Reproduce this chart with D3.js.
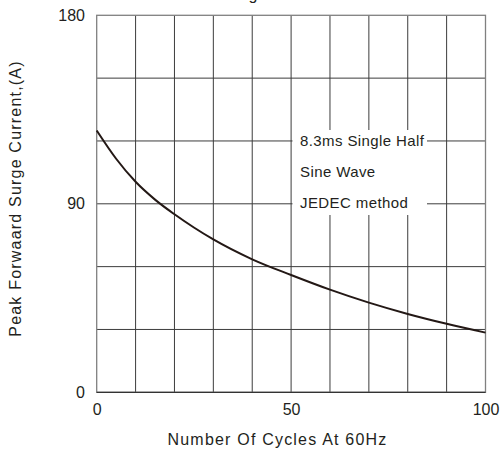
<!DOCTYPE html>
<html>
<head>
<meta charset="utf-8">
<script src="https://cdn.jsdelivr.net/npm/d3@7"></script>
<style>
  body { margin: 0; background: #fff; }
  text { font-family: "Liberation Sans", Arial, sans-serif; fill: #231f20; }
</style>
</head>
<body>
<svg id="chart" width="501" height="453"></svg>
<script>
// values
let cycles  = [0, 5, 10, 15, 20, 25, 30, 40, 50, 60, 70, 80, 90, 100];
let current = [125, 111.5, 100.5, 92, 85, 78.7, 73, 63.5, 56, 49, 42.8, 37.4, 32.7, 28.5];

let xTicks = [0, 50, 100];
let yTicks = [0, 90, 180];
let xGrid = [10, 20, 30, 40, 50, 60, 70, 80, 90];
let yGrid = [30, 60, 90, 120, 150];
let noteLines = ["8.3ms Single Half", "Sine Wave", "JEDEC method"];

let svg = d3.select('#chart');

let x = d3.scaleLinear().domain([0, 100]).range([96.7, 485.5]);
let y = d3.scaleLinear().domain([0, 180]).range([392.3, 15.3]);

// cut-off title, only the descender shows
svg.append('text')
   .attr('x', 253).attr('y', 0)
   .attr('text-anchor', 'middle')
   .style('font-size', '16px')
   .text('g');

// grid
svg.selectAll('.vgrid')
   .data(xGrid)
   .enter()
   .append('line')
   .attr('x1', d => x(d)).attr('x2', d => x(d))
   .attr('y1', y(180)).attr('y2', y(0))
   .attr('stroke', '#3c3c3c').attr('stroke-width', 1);

svg.selectAll('.hgrid')
   .data(yGrid)
   .enter()
   .append('line')
   .attr('x1', x(0)).attr('x2', x(100))
   .attr('y1', d => y(d)).attr('y2', d => y(d))
   .attr('stroke', '#3c3c3c').attr('stroke-width', 1);

// frame
svg.append('rect')
   .attr('x', x(0)).attr('y', y(180))
   .attr('width', x(100) - x(0)).attr('height', y(0) - y(180))
   .attr('fill', 'none')
   .attr('stroke', '#808080').attr('stroke-width', 1.3);
svg.append('line')
   .attr('x1', x(0)).attr('x2', x(100))
   .attr('y1', y(0)).attr('y2', y(0))
   .attr('stroke', '#333').attr('stroke-width', 1.3);

// note box
svg.append('rect')
   .attr('x', 292.5).attr('y', 130)
   .attr('width', 134.5).attr('height', 85)
   .attr('fill', '#fff');

svg.selectAll('.note')
   .data(noteLines)
   .enter()
   .append('text')
   .attr('x', 300)
   .attr('y', (d, i) => 146 + i * 30.8)
   .style('font-size', '15px')
   .style('letter-spacing', '0.4px')
   .text(d => d);

// curve
let line = d3.line()
   .x(d => x(d[0]))
   .y(d => y(d[1]))
   .curve(d3.curveMonotoneX);

svg.append('path')
   .datum(cycles.map((c, i) => [c, current[i]]))
   .attr('d', line)
   .attr('fill', 'none')
   .attr('stroke', '#231815')
   .attr('stroke-width', 2);

// axes
let xAxis = svg.append('g')
   .attr('transform', 'translate(0,' + y(0) + ')')
   .call(d3.axisBottom(x).tickValues(xTicks).tickSize(0).tickPadding(11.3));
let yAxis = svg.append('g')
   .attr('transform', 'translate(' + x(0) + ',0)')
   .call(d3.axisLeft(y).tickValues(yTicks).tickSize(0).tickPadding(11.7));

[xAxis, yAxis].forEach(g => {
   g.select('.domain').remove();
   g.selectAll('text')
    .style('font-size', '16px')
    .style('font-family', '"Liberation Sans", Arial, sans-serif')
    .attr('fill', '#231f20');
});

// axis titles
svg.append('text')
   .attr('x', 277.5).attr('y', 445)
   .attr('text-anchor', 'middle')
   .style('font-size', '16px')
   .style('letter-spacing', '1.2px')
   .text('Number Of Cycles At 60Hz');

svg.append('text')
   .attr('transform', 'translate(20.7,198.5) rotate(-90)')
   .attr('text-anchor', 'middle')
   .style('font-size', '16px')
   .style('letter-spacing', '1.2px')
   .text('Peak Forwaard Surge Current,(A)');
</script>
</body>
</html>
